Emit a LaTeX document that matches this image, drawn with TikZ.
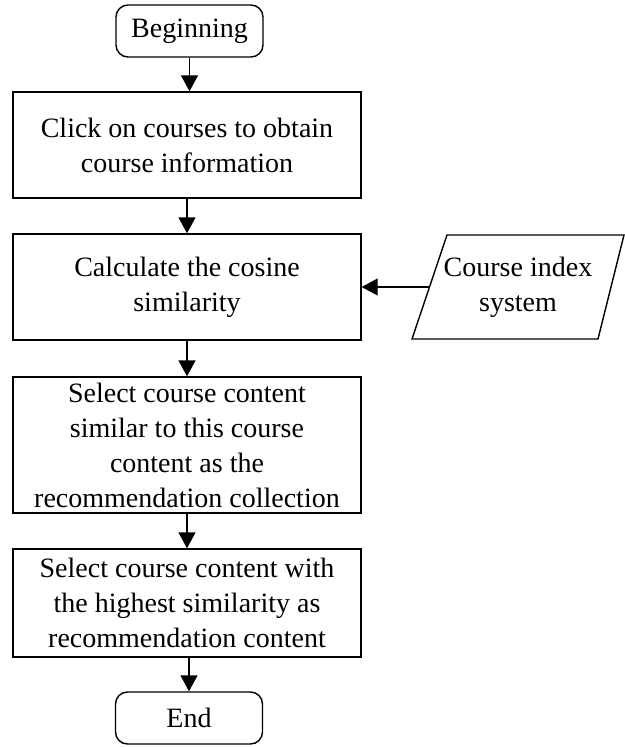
\documentclass[tikz,border=0pt]{standalone}
\usepackage{fontspec}
\setmainfont{Liberation Serif}
\usetikzlibrary{arrows.meta}
\begin{document}
\begin{tikzpicture}[x=1pt,y=-1pt,
  every node/.style={font=\fontsize{28}{35}\selectfont, align=center, inner sep=0pt},
  procbox/.style={draw, line width=1.4pt, minimum width=348pt},
  termbox/.style={draw, line width=1.4pt, rounded corners=12pt, minimum width=147pt, minimum height=52pt},
  flow/.style={line width=1.4pt, -{Triangle[length=16pt,width=17pt]}}]
\useasboundingbox (0,0) rectangle (624,747);
\node[termbox] (begin) at (189.5,31) {Beginning};
\node[procbox, minimum height=106pt] (b1) at (187,145) {Click on courses to obtain\\course information};
\node[procbox, minimum height=106pt] (b2) at (187,287) {Calculate the cosine\\similarity};
\node[procbox, minimum height=136pt] (b3) at (187,445) {Select course content\\similar to this course\\content as the\\recommendation collection};
\node[procbox, minimum height=108pt] (b4) at (187,603) {Select course content with\\the highest similarity as\\recommendation content};
\node[termbox] (end) at (189,718) {End};
\draw[line width=1.4pt] (447,235) -- (624,235) -- (598,339) -- (412,339) -- cycle;
\node (ci) at (518,287) {Course index\\system};
\coordinate (cil) at (429.5,287);
\draw[flow] (begin) -- (begin.south |- b1.north);
\draw[flow] (b1) -- (b2);
\draw[flow] (b2) -- (b3);
\draw[flow] (b3) -- (b4);
\draw[flow] (b4) -- (b4.south -| end.north) -- (end);
\draw[flow] (cil) -- (b2.east);
\end{tikzpicture}
\end{document}
